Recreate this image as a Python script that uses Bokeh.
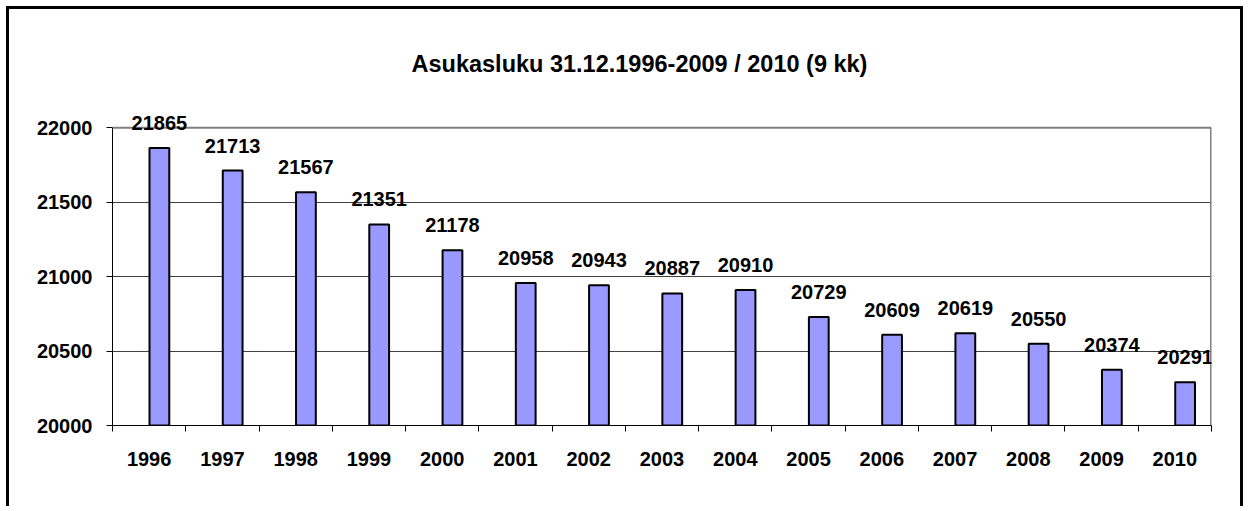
from bokeh.plotting import figure
from bokeh.models import ColumnDataSource, FixedTicker, Range1d, LabelSet, Span
from bokeh.core.properties import value
from bokeh.embed import file_html
from bokeh.resources import INLINE

years = ["1996", "1997", "1998", "1999", "2000", "2001", "2002", "2003",
         "2004", "2005", "2006", "2007", "2008", "2009", "2010"]
values = [21865, 21713, 21567, 21351, 21178, 20958, 20943, 20887,
          20910, 20729, 20609, 20619, 20550, 20374, 20291]
y_ticks = [20000, 20500, 21000, 21500, 22000]
title_text = "Asukasluku 31.12.1996-2009 / 2010 (9 kk)"

FONT = "Liberation Sans"
n = len(years)
centers = [i + 0.5 for i in range(n)]
bar_x = [c + 0.14 for c in centers]

src = ColumnDataSource(dict(x=bar_x, top=values, label=[str(v) for v in values]))

# headroom above the top tick so the value labels are not clipped
y_top = y_ticks[-1] + 150

p = figure(width=1237, height=500, output_backend="svg", toolbar_location=None,
           x_range=Range1d(0, n), y_range=Range1d(y_ticks[0], y_top),
           min_border_left=103, min_border_right=35, min_border_top=96,
           min_border_bottom=84)
p.styles = {"border-top": "3px solid black", "border-left": "3px solid black",
            "border-right": "3px solid black", "margin-left": "6px", "margin-top": "6px"}

p.outline_line_color = None

# plot-area border (top and right) in grey
p.add_layout(Span(location=y_ticks[-1], dimension="width", line_color="#808080",
                  line_width=2))
p.segment(x0=[n], y0=[y_ticks[0]], x1=[n], y1=[y_ticks[-1]],
          line_color="#808080", line_width=3)

p.vbar(x="x", top="top", bottom=y_ticks[0], width=0.27, source=src,
       fill_color="#9999FF", line_color="black", line_width=2)

labels = LabelSet(x="x", y="top", text="label", source=src, text_align="center",
                  text_baseline="alphabetic", y_offset=18,
                  text_font_size=value("20px"), text_font=value(FONT),
                  text_font_style="bold", text_color="black")
p.add_layout(labels)

p.title.text = title_text
p.title.text_font = FONT
p.title.text_font_style = "bold"
p.title.text_font_size = "23.5px"
p.title.text_color = "black"
p.title.align = "left"
p.title.offset = 299
p.title.standoff = 57

p.xgrid.visible = False
p.ygrid.ticker = FixedTicker(ticks=y_ticks[1:-1])
p.ygrid.grid_line_color = "#404040"
p.ygrid.grid_line_width = 1

p.xaxis.ticker = FixedTicker(ticks=centers, minor_ticks=list(range(n + 1)))
p.xaxis.major_label_overrides = {c: y for c, y in zip(centers, years)}
p.xaxis.major_tick_out = 0
p.xaxis.major_tick_in = 0
p.xaxis.minor_tick_out = 6
p.xaxis.minor_tick_in = 0
p.xaxis.minor_tick_line_color = "black"
p.xaxis.major_label_standoff = 20

p.yaxis.ticker = FixedTicker(ticks=y_ticks)
p.yaxis.bounds = (y_ticks[0], y_ticks[-1])
p.yaxis.minor_tick_line_color = None
p.yaxis.major_tick_out = 6
p.yaxis.major_tick_in = 0
p.yaxis.major_label_standoff = 14

for ax in (p.xaxis, p.yaxis):
    ax.axis_line_color = "black"
    ax.axis_line_width = 1
    ax.major_tick_line_color = "black"
    ax.major_label_text_font = FONT
    ax.major_label_text_font_style = "bold"
    ax.major_label_text_font_size = "20px"
    ax.major_label_text_color = "black"

open("out.html", "w").write(file_html(p, INLINE))
